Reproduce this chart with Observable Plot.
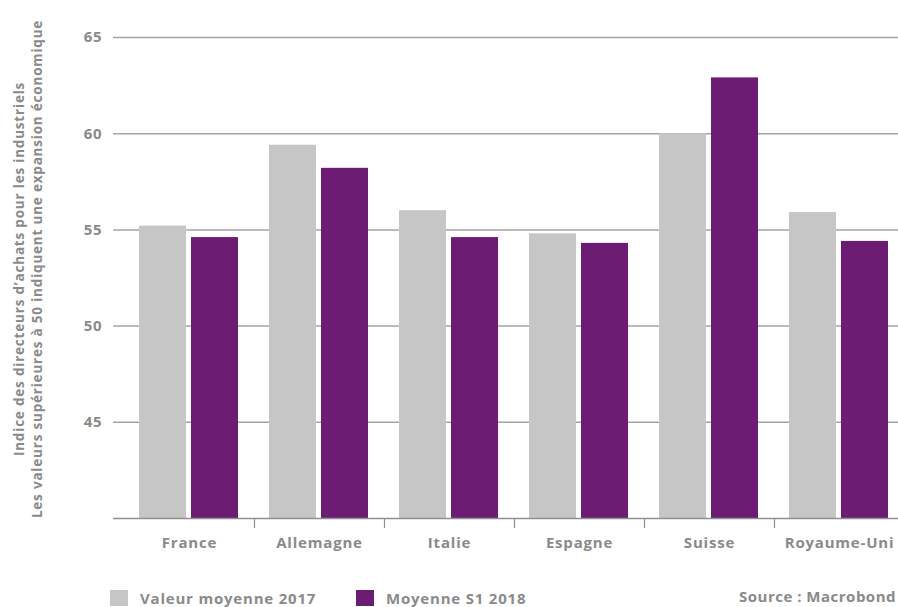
<!DOCTYPE html>
<html>
<head>
<meta charset="utf-8">
<script src="https://cdn.jsdelivr.net/npm/d3@7"></script>
<script src="https://cdn.jsdelivr.net/npm/@observablehq/plot@0.6"></script>
<style>
  body { margin: 0; background: #fff; font-family: "Open Sans", sans-serif; }
  #wrap { width: 898px; height: 607px; overflow: hidden; position: relative; }
  #legend { position: relative; width: 898px; height: 37px; overflow: hidden; }
  .item { position: absolute; top: 18px; display: flex; align-items: center; font-weight: 700; font-size: 15px; letter-spacing: 0.8px; color: #8a8a8a; white-space: nowrap; }
  .sw { width: 18px; height: 16px; margin-right: 12px; }
  #source { position: absolute; left: 739px; top: 18px; font-weight: 700; font-size: 15px; letter-spacing: 0.5px; color: #8a8a8a; white-space: nowrap; line-height: 16px; }
</style>
</head>
<body>
<div id="wrap">
  <div id="chart"></div>
  <div id="legend"></div>
</div>
<script>
const countries = ["France", "Allemagne", "Italie", "Espagne", "Suisse", "Royaume-Uni"];
const values2017 = [55.2, 59.4, 56.0, 54.8, 60.0, 55.9];
const valuesS1_2018 = [54.6, 58.2, 54.6, 54.3, 62.9, 54.4];
const yTicks = [45, 50, 55, 60, 65];
const seriesNames = ["Valeur moyenne 2017", "Moyenne S1 2018"];
const seriesColors = ["#c6c6c6", "#6c1c72"];
const yTitle = ["Indice des directeurs d’achats pour les industriels",
                "Les valeurs supérieures à 50 indiquent une expansion économique"];
const sourceText = "Source : Macrobond";

const data2017 = countries.map((c, i) => ({country: c, value: values2017[i]}));
const data2018 = countries.map((c, i) => ({country: c, value: valuesS1_2018[i]}));

const textStyle = {fill: "#8a8a8a", fontWeight: "bold", fontSize: 15};

const chart = Plot.plot({
  width: 898,
  height: 570,
  marginTop: 37,
  marginBottom: 52,
  marginLeft: 113,
  marginRight: -17,
  style: {fontFamily: "'Open Sans', sans-serif", letterSpacing: "0.8px", overflow: "hidden"},
  x: {domain: countries, paddingInner: 0, paddingOuter: 11 / 130, label: null},
  y: {domain: [40, 65], label: null},
  marks: [
    Plot.ruleY(yTicks, {stroke: "#a3a3a3", strokeWidth: 1.5}),
    Plot.barY(data2017, {x: "country", y1: 40, y2: "value", fill: seriesColors[0], insetLeft: 15, insetRight: 68}),
    Plot.barY(data2018, {x: "country", y1: 40, y2: "value", fill: seriesColors[1], insetLeft: 67, insetRight: 16}),
    Plot.ruleY([40], {stroke: "#8f8f8f", strokeWidth: 1.5}),
    Plot.axisY({ticks: yTicks, tickSize: 0, tickPadding: 11, tickFormat: d => String(d), ...textStyle}),
    Plot.axisX({ticks: countries.slice(1), tickSize: 10, tickFormat: null, dx: -65, stroke: "#8f8f8f", strokeWidth: 1.2}),
    Plot.axisX({tickSize: 0, tickPadding: 19, ...textStyle}),
    Plot.text([yTitle.join("\n")], {frameAnchor: "left", textAnchor: "middle", rotate: -90, dx: -86, dy: -9, lineAnchor: "middle", lineHeight: 1.35, fill: "#8a8a8a", fontWeight: "bold", fontSize: 13.5, letterSpacing: "0.6px"})
  ]
});
document.getElementById("chart").appendChild(chart);

const legend = document.getElementById("legend");
const lefts = [110, 356];
seriesNames.forEach((name, i) => {
  const item = document.createElement("div");
  item.className = "item";
  item.style.left = lefts[i] + "px";
  item.innerHTML = `<span class="sw" style="background:${seriesColors[i]}"></span><span>${name}</span>`;
  legend.appendChild(item);
});
const src = document.createElement("div");
src.id = "source";
src.textContent = sourceText;
legend.appendChild(src);
</script>
</body>
</html>
